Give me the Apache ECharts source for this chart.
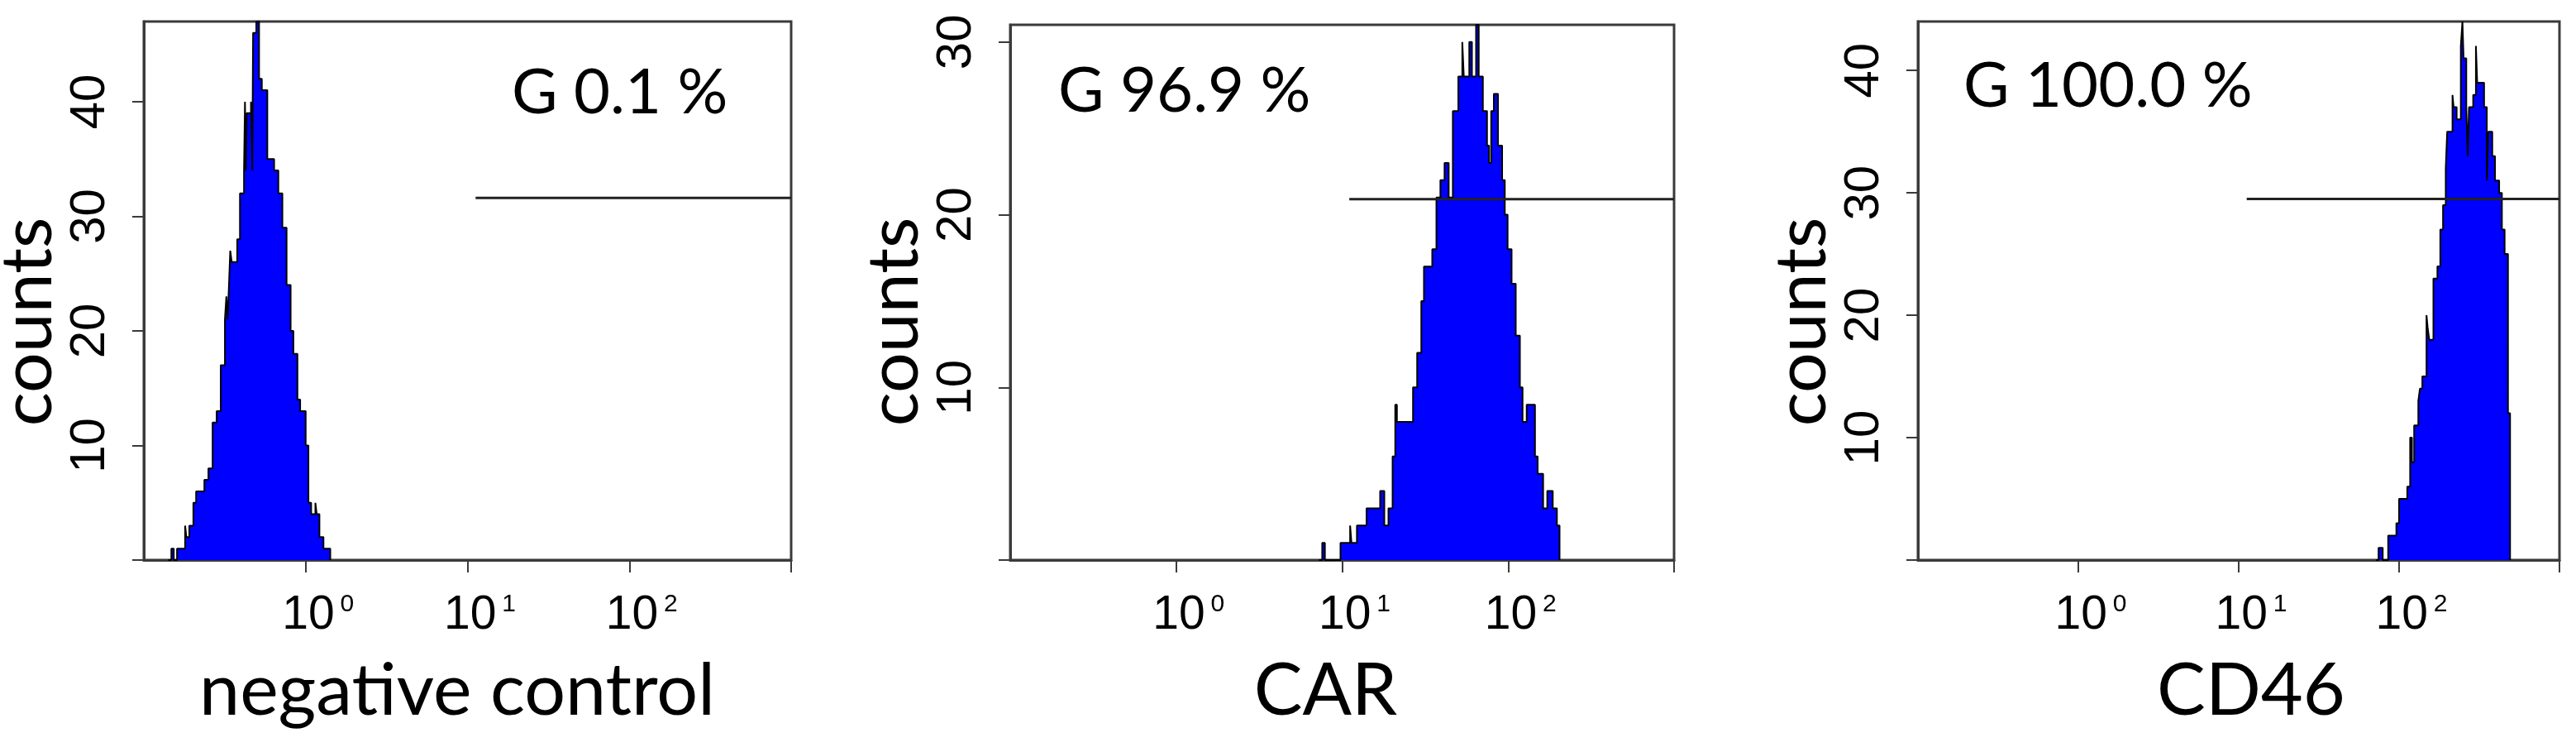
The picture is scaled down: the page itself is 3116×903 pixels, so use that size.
<!DOCTYPE html>
<html>
<head>
<meta charset="utf-8">
<script src="https://cdn.jsdelivr.net/npm/echarts@6/dist/echarts.min.js"></script>
<style>
  html, body { margin: 0; padding: 0; background: #ffffff; }
  #chart { width: 3116px; height: 903px; }
</style>
</head>
<body>
<div id="chart"></div>
<script>
// ---- data (x = log10 of fluorescence, bin left edges; y = counts) ----
const negX = [-0.85, -0.83, -0.815, -0.795, -0.778, -0.745, -0.737, -0.719, -0.694, -0.677, -0.626, -0.601, -0.575, -0.550, -0.525, -0.499, -0.490, -0.482, -0.474, -0.466, -0.457, -0.423, -0.406, -0.381, -0.375, -0.370, -0.364, -0.338, -0.330, -0.325, -0.305, -0.288, -0.271, -0.237, -0.195, -0.169, -0.144, -0.118, -0.093, -0.076, -0.051, -0.034, 0.000, 0.017, 0.034, 0.060, 0.068, 0.085, 0.110, 0.152];
const negY = [0, 1, 0, 1, 1, 3, 2, 3, 5, 6, 7, 8, 12, 13, 17, 21, 23, 21, 24, 27, 26, 28, 32, 34, 40, 34, 39, 40, 34, 46, 47, 42, 41, 35, 34, 32, 29, 24, 20, 18, 14, 13, 10, 5, 4, 5, 4, 2, 1, 0];

const carX = [0.860, 0.880, 0.896, 0.990, 1.048, 1.056, 1.073, 1.089, 1.114, 1.147, 1.163, 1.229, 1.254, 1.279, 1.304, 1.320, 1.330, 1.345, 1.403, 1.427, 1.452, 1.477, 1.493, 1.518, 1.543, 1.568, 1.592, 1.617, 1.642, 1.667, 1.700, 1.724, 1.733, 1.741, 1.766, 1.782, 1.807, 1.823, 1.848, 1.873, 1.885, 1.898, 1.914, 1.939, 1.964, 1.980, 1.997, 2.021, 2.046, 2.071, 2.087, 2.112, 2.162, 2.178, 2.211, 2.236, 2.269, 2.294, 2.310];
const carY = [0, 1, 0, 1, 2, 1, 1, 2, 2, 3, 3, 4, 2, 3, 6, 9, 8, 8, 8, 10, 12, 15, 17, 17, 18, 21, 22, 23, 21, 26, 28, 30, 28, 28, 30, 28, 31, 28, 26, 24, 23, 26, 27, 24, 22, 20, 18, 16, 13, 10, 8, 9, 6, 5, 3, 4, 3, 2, 0];

const cd46X = [1.855, 1.872, 1.898, 1.932, 1.983, 2.000, 2.051, 2.069, 2.080, 2.094, 2.120, 2.130, 2.145, 2.171, 2.178, 2.188, 2.214, 2.239, 2.257, 2.274, 2.291, 2.300, 2.308, 2.333, 2.340, 2.359, 2.385, 2.395, 2.402, 2.419, 2.428, 2.436, 2.462, 2.479, 2.487, 2.496, 2.530, 2.547, 2.556, 2.581, 2.598, 2.624, 2.641, 2.658, 2.679, 2.692];
const cd46Y = [0, 1, 0, 2, 3, 5, 6, 10, 8, 11, 13, 14, 15, 20, 19, 18, 23, 24, 27, 29, 32, 35, 35, 38, 37, 36, 42, 44, 41, 37, 33, 37, 38, 42, 39, 39, 37, 31, 35, 33, 31, 30, 27, 25, 12, 0];

const panelTitles = ['negative control', 'CAR', 'CD46'];
const gateLabels = ['G 0.1 %', 'G 96.9 %', 'G 100.0 %'];
const gateStart = [1.05, 1.043, 1.05];
const gateEnd = [3, 3, 3];
const gateLevel = [31.6, 20.9, 29.5];
const yMax = [47, 31, 44];
const yTickValues = [[0, 10, 20, 30, 40], [0, 10, 20, 30], [0, 10, 20, 30, 40]];
const yLabelValues = [[10, 20, 30, 40], [10, 20, 30], [10, 20, 30, 40]];
const xTickExps = [0, 1, 2, 3];
const xLabelExps = [0, 1, 2];
const xMin = -1, xMax = 3;

// ---- layout / style ----
const grids = [
  { left: 174, top: 26, width: 783, height: 651 },
  { left: 1222, top: 30, width: 803, height: 647 },
  { left: 2320, top: 26, width: 776, height: 651 }
];
const titlePos = [
  { left: 619, top: 74 },
  { left: 1280, top: 72 },
  { left: 2375, top: 66 }
];
const xNamePad = [[0, 25, 0, 0], [0, 40, 0, 0], [0, 0, 0, 30]];
const yNamePad = [[0, 75, 0, 0], [0, 71, 0, 0], [0, 75, 0, 0]];

const hist = [[negX, negY], [carX, carY], [cd46X, cd46Y]];
const BOX = '#3a3a3a';
const TICKFONT = 'Liberation Sans';

const option = {
  backgroundColor: '#ffffff',
  animation: false,
  title: gateLabels.map((t, i) => ({
    text: t,
    left: titlePos[i].left,
    top: titlePos[i].top,
    padding: 0,
    textStyle: { fontFamily: 'Lato', fontSize: 76, fontWeight: 'normal', color: '#000' }
  })),
  grid: grids.map(g => Object.assign({
    show: true, borderColor: BOX, borderWidth: 3, backgroundColor: 'transparent',
    containLabel: false, outerBoundsMode: 'none'
  }, g)),
  xAxis: grids.map((g, i) => ({
    type: 'value',
    gridIndex: i,
    min: xMin,
    max: xMax,
    interval: 1,
    name: panelTitles[i],
    nameLocation: 'middle',
    nameGap: 115,
    nameTextStyle: { fontFamily: 'Lato', fontSize: 88, color: '#000', padding: xNamePad[i] },
    axisLine: { show: true, onZero: false, lineStyle: { color: BOX, width: 3 } },
    axisTick: { show: true, inside: false, length: 15, lineStyle: { color: BOX, width: 2 }, customValues: xTickExps },
    axisLabel: {
      customValues: xLabelExps,
      margin: 39,
      padding: [0, 0, 0, 30],
      formatter: v => xLabelExps.indexOf(v) >= 0 ? '{b|10}{s|' + v + '}' : '',
      rich: {
        b: { fontFamily: TICKFONT, fontSize: 57, color: '#000', lineHeight: 57 },
        s: { fontFamily: TICKFONT, fontSize: 30, color: '#000', verticalAlign: 'top', lineHeight: 36, padding: [0, 0, 0, 7] }
      }
    },
    splitLine: { show: false }
  })),
  yAxis: grids.map((g, i) => ({
    type: 'value',
    gridIndex: i,
    min: 0,
    max: yMax[i],
    interval: 10,
    name: 'counts',
    nameLocation: 'middle',
    nameRotate: 90,
    nameGap: 97,
    nameTextStyle: { fontFamily: 'Lato', fontSize: 86, color: '#000', padding: yNamePad[i] },
    axisLine: { show: true, onZero: false, lineStyle: { color: BOX, width: 3 } },
    axisTick: { show: true, inside: false, length: 14, lineStyle: { color: BOX, width: 2 }, customValues: yTickValues[i] },
    axisLabel: {
      customValues: yLabelValues[i],
      rotate: 90,
      margin: 35,
      fontFamily: TICKFONT,
      fontSize: 60,
      color: '#000',
      formatter: v => yLabelValues[i].indexOf(v) >= 0 ? String(v) : ''
    },
    splitLine: { show: false }
  })),
  series: []
};

hist.forEach((h, i) => {
  option.series.push({
    type: 'line',
    name: panelTitles[i],
    xAxisIndex: i,
    yAxisIndex: i,
    step: 'end',
    symbol: 'none',
    clip: true,
    data: h[0].map((x, k) => [x, h[1][k]]),
    lineStyle: { color: '#000', width: 2 },
    areaStyle: { color: '#0000ff', opacity: 1 },
    z: 2
  });
  option.series.push({
    type: 'line',
    name: 'gate ' + panelTitles[i],
    xAxisIndex: i,
    yAxisIndex: i,
    symbol: 'none',
    clip: true,
    data: [[gateStart[i], gateLevel[i]], [gateEnd[i], gateLevel[i]]],
    lineStyle: { color: '#222', width: 3 },
    z: 3
  });
});

const chart = echarts.init(document.getElementById('chart'), null, { renderer: 'canvas' });
chart.setOption(option);
</script>
</body>
</html>
